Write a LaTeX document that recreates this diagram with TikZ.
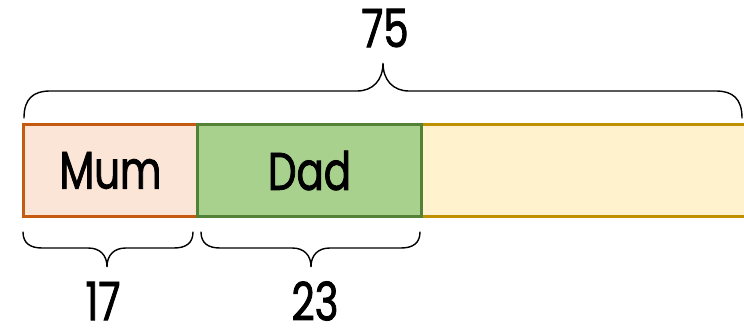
\documentclass[tikz,border=0pt]{standalone}
\usepackage{fontspec}
\setmainfont{Poppins}[FakeStretch=0.76,FakeBold=1.5]
\begin{document}
\begin{tikzpicture}[x=1pt,y=-1pt,
  bar/.style={draw, line width=2.6pt, minimum height=92pt, anchor=north west, inner sep=0pt, outer sep=0pt, font=\fontsize{53}{53}\selectfont},
  brace/.style={draw, line width=1.4pt, line cap=round},
  lbl/.style={font=\fontsize{53}{53}\selectfont, inner sep=0pt}]
\definecolor{mumfill}{HTML}{FBE5D6}
\definecolor{mumline}{HTML}{C55A11}
\definecolor{dadfill}{HTML}{A9D18E}
\definecolor{dadline}{HTML}{538135}
\definecolor{restfill}{HTML}{FFF2CC}
\definecolor{restline}{HTML}{BF9000}
\useasboundingbox (0,0) rectangle (744,329);
\node[bar, fill=restfill, draw=restline, minimum width=326pt] (rest) at (421,124.5) {};
\node[bar, fill=mumfill, draw=mumline, minimum width=174pt] (mum) at (23.5,124.5) {Mum};
\node[bar, fill=dadfill, draw=dadline, minimum width=224pt] (dad) at (197.5,124.5) {Dad};
% top brace
\coordinate (tl) at (24,118);
\coordinate (tt) at (383,63);
\coordinate (tr) at (742,118);
\draw[brace] (tl) .. controls (24,98) and (34,91) .. (50,91) -- (357,91)
  .. controls (373,91) and (383,80) .. (tt)
  .. controls (383,80) and (393,91) .. (409,91) -- (716,91)
  .. controls (732,91) and (742,98) .. (tr);
% Mum brace
\coordinate (ml) at (23,232);
\coordinate (mt) at (107,267);
\coordinate (mr) at (193,232);
\draw[brace] (ml) .. controls (23,243) and (30,248) .. (42,248) -- (88,248)
  .. controls (100,248) and (107,255) .. (mt)
  .. controls (107,255) and (114,248) .. (126,248) -- (174,248)
  .. controls (186,248) and (193,243) .. (mr);
% Dad brace
\coordinate (dl) at (201,232);
\coordinate (dt) at (311,267);
\coordinate (dr) at (420,232);
\draw[brace] (dl) .. controls (201,243) and (208,248) .. (220,248) -- (292,248)
  .. controls (304,248) and (311,255) .. (dt)
  .. controls (311,255) and (318,248) .. (330,248) -- (401,248)
  .. controls (413,248) and (420,243) .. (dr);
\node[lbl] (total) at (385,28) {75};
\node[lbl] (n17) at (103,301) {17};
\node[lbl] (n23) at (315,301) {23};
\end{tikzpicture}
\end{document}
